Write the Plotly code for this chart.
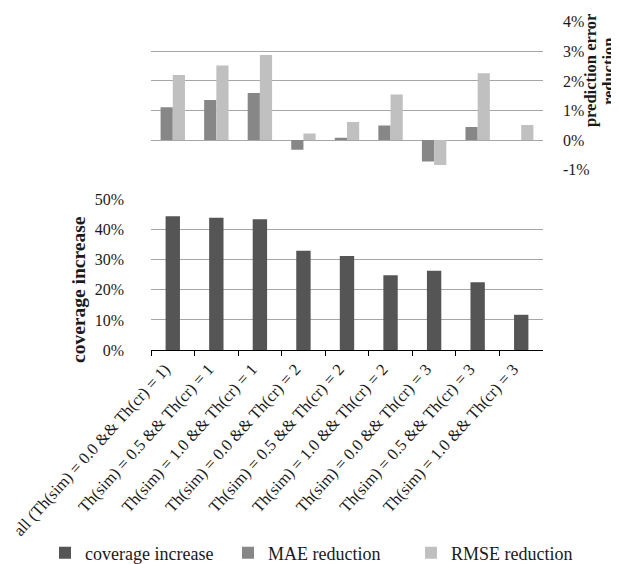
import plotly.graph_objects as go

categories = [
    "all (Th(sim) = 0.0 && Th(cr) = 1)",
    "Th(sim) = 0.5 && Th(cr) = 1",
    "Th(sim) = 1.0 && Th(cr) = 1",
    "Th(sim) = 0.0 && Th(cr) = 2",
    "Th(sim) = 0.5 && Th(cr) = 2",
    "Th(sim) = 1.0 && Th(cr) = 2",
    "Th(sim) = 0.0 && Th(cr) = 3",
    "Th(sim) = 0.5 && Th(cr) = 3",
    "Th(sim) = 1.0 && Th(cr) = 3",
]
coverage_increase = [44.4, 43.9, 43.4, 32.9, 31.2, 24.8, 26.3, 22.5, 11.7]
mae_reduction = [1.11, 1.36, 1.59, -0.33, 0.08, 0.49, -0.72, 0.44, 0.0]
rmse_reduction = [2.2, 2.52, 2.88, 0.22, 0.61, 1.54, -0.84, 2.26, 0.51]

top_tickvals = [-1, 0, 1, 2, 3, 4]
top_ticktext = ["-1%", "0%", "1%", "2%", "3%", "4%"]
bottom_tickvals = [0, 10, 20, 30, 40, 50]
bottom_ticktext = ["0%", "10%", "20%", "30%", "40%", "50%"]

FONT = "Liberation Serif"
TXT = "#1a1a1a"
W, H = 619, 564

fig = go.Figure()
fig.add_trace(go.Bar(
    x=categories, y=coverage_increase, name="coverage increase",
    marker=dict(color="#555555", line=dict(width=0)),
    width=0.33, xaxis="x2", yaxis="y2",
))
fig.add_trace(go.Bar(
    x=categories, y=mae_reduction, name="MAE reduction",
    marker=dict(color="#878787", line=dict(width=0)),
    width=0.28, offset=-0.28, xaxis="x", yaxis="y",
))
fig.add_trace(go.Bar(
    x=categories, y=rmse_reduction, name="RMSE reduction",
    marker=dict(color="#c0c0c0", line=dict(width=0)),
    width=0.28, offset=0.0, xaxis="x", yaxis="y",
))

xdom = [143 / W, 535 / W]
grid = "#a6a6a6"

fig.update_layout(
    width=W, height=H,
    margin=dict(l=0, r=0, t=0, b=0),
    paper_bgcolor="white", plot_bgcolor="white",
    font=dict(family=FONT, size=16, color=TXT),
    barmode="overlay",
    showlegend=True,
    legend=dict(
        orientation="h", x=37 / W, xanchor="left", y=(H - 553) / H, yanchor="middle",
        font=dict(family=FONT, size=18, color=TXT),
        entrywidth=138, entrywidthmode="pixels",
        itemwidth=30, tracegroupgap=0,
    ),
    xaxis=dict(
        domain=xdom, anchor="y", matches="x2", showticklabels=False,
        showgrid=False, zeroline=False, showline=False, ticks="", automargin=False,
    ),
    yaxis=dict(
        domain=[1 - 164 / H, 1 - 14 / H], anchor="x", side="right",
        range=[-1, 4], tickvals=top_tickvals, ticktext=top_ticktext,
        showgrid=True, gridcolor=grid, gridwidth=1, zeroline=False,
        showline=False, ticks="", ticklabelstandoff=19, automargin=False,
        tickfont=dict(family=FONT, size=16, color=TXT),
    ),
    xaxis2=dict(
        domain=xdom, anchor="y2", tickangle=-48,
        showgrid=False, zeroline=False, showline=True, linecolor="black", linewidth=1,
        ticks="outside", tickson="boundaries", ticklen=5, tickcolor="black",
        automargin=False, ticklabelstandoff=2, ticklabelshift=-8,
        tickfont=dict(family=FONT, size=16.5, color=TXT),
    ),
    yaxis2=dict(
        domain=[1 - 347 / H, 1 - 194 / H], anchor="x2", side="left",
        range=[0, 50], tickvals=bottom_tickvals, ticktext=bottom_ticktext,
        showgrid=True, gridcolor=grid, gridwidth=1, zeroline=False,
        showline=False, ticks="", ticklabelstandoff=26, automargin=False,
        tickfont=dict(family=FONT, size=16, color=TXT),
    ),
    annotations=[
        dict(text="<b>coverage increase</b>", textangle=-90, x=71 / W, y=1 - 286 / H,
             xref="paper", yref="paper", xanchor="center", yanchor="middle", showarrow=False,
             font=dict(family=FONT, size=19.5, color=TXT)),
        dict(text="<b>prediction error</b>", textangle=-90, x=582 / W, y=1 - 63 / H,
             xref="paper", yref="paper", xanchor="center", yanchor="middle", showarrow=False,
             font=dict(family=FONT, size=16.5, color=TXT)),
        dict(text="<b>reduction</b>", textangle=-90, x=600 / W, y=1 - 64 / H,
             xref="paper", yref="paper", xanchor="center", yanchor="middle", showarrow=False,
             font=dict(family=FONT, size=16.5, color=TXT)),
    ],
)

fig.write_html("out.html")
